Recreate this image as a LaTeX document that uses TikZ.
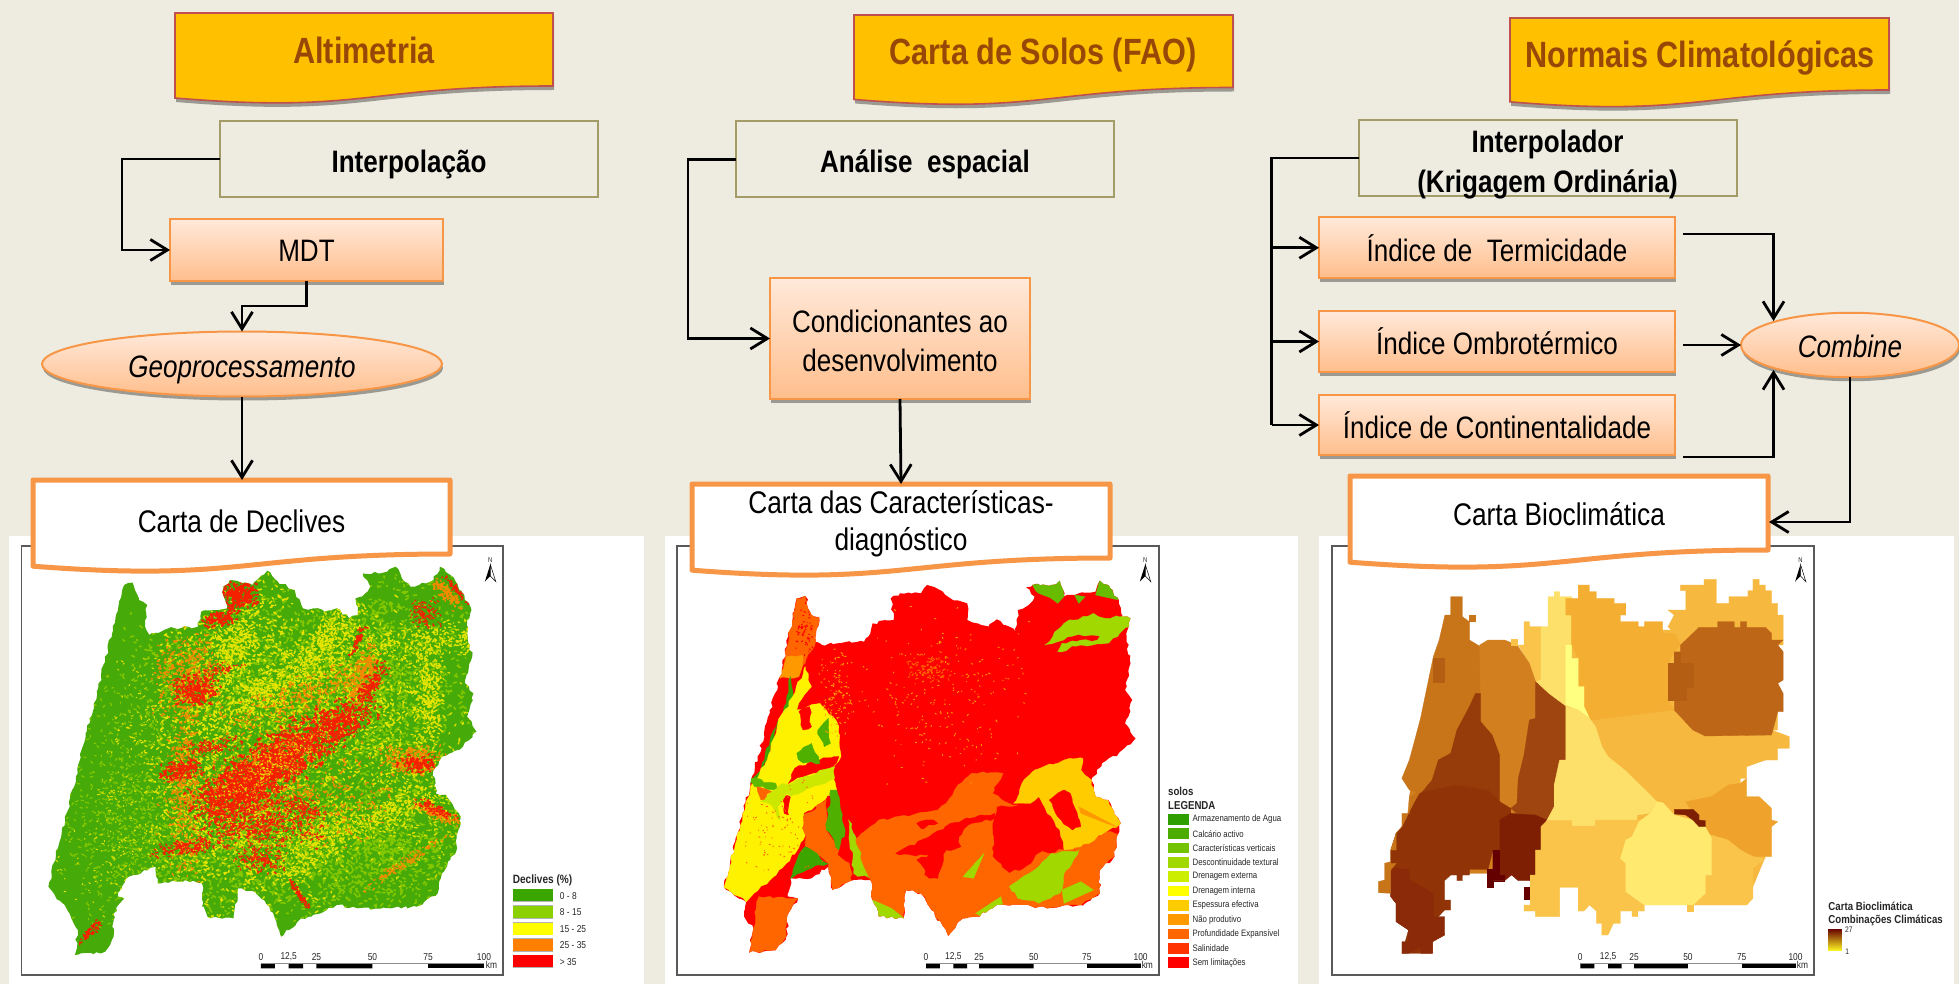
\documentclass[tikz,border=0pt]{standalone}
\usepackage{fontspec}
\setmainfont[FakeStretch=0.84]{Liberation Sans}
\usetikzlibrary{arrows.meta,shapes.geometric,shadings,shadows,decorations.pathmorphing}
\definecolor{bgc}{HTML}{EEECE1}
\definecolor{bannerf}{HTML}{FFC000}
\definecolor{bannerl}{HTML}{C0504D}
\definecolor{bannert}{HTML}{984806}
\definecolor{olive}{HTML}{A39B68}
\definecolor{orl}{HTML}{F79646}
\definecolor{gtop}{HTML}{FFE9DA}
\definecolor{gbot}{HTML}{FFBE8C}
\tikzset{
 flow/.style={line width=2.8pt,draw=black,line join=miter},
 arr/.style={flow,-{Straight Barb[length=17pt,width=21pt,line width=2.8pt]}},
 softsh/.style={drop shadow={shadow xshift=1pt,shadow yshift=-4pt,fill=black,opacity=.35}},
 procbox/.style={rectangle,draw=orl,line width=2pt,top color=gtop,bottom color=gbot,softsh,inner sep=0pt,outer sep=0pt,align=center,font=\fontsize{31}{39}\selectfont},
 procell/.style={ellipse,draw=orl,line width=2pt,top color=gtop,bottom color=gbot,softsh,inner sep=0pt,outer sep=0pt,align=center,font=\fontsize{31}{39}\selectfont\itshape},
 opbox/.style={rectangle,draw=olive,line width=2pt,inner sep=0pt,outer sep=0pt,align=center,minimum width=378pt,font=\fontsize{31}{40}\selectfont\bfseries},
 bannertxt/.style={inner sep=0pt,text=bannert,font=\fontsize{36.5}{40}\selectfont\bfseries},
 cartatxt/.style={inner sep=0pt,outer sep=0pt,align=center,font=\fontsize{31.3}{37}\selectfont},
 bannershape/.style={fill=bannerf,draw=bannerl,line width=1.6pt,softsh},
 cartashape/.style={fill=white,draw=orl,line width=5pt,line join=round},
 maptxt/.style={inner sep=0pt,anchor=west,text=black!85,font=\fontsize{9.3}{11}\selectfont},
 mapbold/.style={inner sep=0pt,anchor=west,text=black!85,font=\fontsize{11.5}{13}\selectfont\bfseries},
 tick/.style={inner sep=0pt,text=black!85,font=\fontsize{10}{11}\selectfont},
 panel/.style={fill=white,draw=none},
 mapframe/.style={draw=black!65,line width=1.5pt},
 rough/.style={decorate,decoration={random steps,segment length=5pt,amplitude=1.6pt}},
 roughclip/.style={decorate,decoration={random steps,segment length=4pt,amplitude=1.5pt}},
}
\newcommand\docpath[4]{(#1,#3) -- (#2,#3) -- (#2,#4)
  .. controls ({(#1+#2)/2},#4) and ({(#1+#2)/2},{#3+(#4-#3)*1.381}) .. (#1,{#3+(#4-#3)*1.1646}) -- cycle}
\newcommand\zone[2]{\path[fill=#1,draw=#1,line width=.3pt] plot coordinates {#2} -- cycle;}
\newcommand\rzone[2]{\path[rough,fill=#1,draw=#1,line width=.3pt] plot coordinates {#2} -- cycle;}
% colour, N, cx, cy, a, b, angle, len, width
\newcommand\speck[9]{%
 \begin{pgfscope}%
 \pgfsetlinewidth{#9pt}\pgfsetstrokecolor{#1}\pgfsetroundcap
 \pgfmathsetmacro\spc{cos(#7)}\pgfmathsetmacro\sps{sin(#7)}%
 \foreach \spi in {1,...,#2}{%
  \pgfmathsetmacro\spu{#5*(rnd+rnd-1)}%
  \pgfmathsetmacro\spv{#6*(rnd+rnd-1)}%
  \pgfmathsetmacro\spx{#3+\spu*\spc-\spv*\sps}%
  \pgfmathsetmacro\spy{#4+\spu*\sps+\spv*\spc}%
  \pgfmathsetmacro\spdx{\spx+#8*(rnd-.5)}%
  \pgfmathsetmacro\spdy{\spy+#8*(rnd-.5)}%
  \pgfpathmoveto{\pgfpointxy{\spx}{\spy}}%
  \pgfpathlineto{\pgfpointxy{\spdx}{\spdy}}%
 }%
 \pgfusepath{stroke}%
 \end{pgfscope}%
}
\newcommand\northarrow[2]{%
 \node[tick,font=\fontsize{7}{8}\selectfont] (n#2) at (#1,90) {N};
 \fill[black] (#1,103) -- (#1-13,155) -- (#1,138) -- cycle;
 \draw[black,line width=.5pt,fill=white] (#1,103) -- (#1+13,155) -- (#1,138) -- cycle;
}
\newcommand\scalebar[9]{%
 \fill[white] (#1,1300) rectangle (#7,1315);
 \draw[black!45,line width=1pt] (#1,1300) -- (#7,1300);
 \fill[black] (#1,1302) rectangle (#2,1315) (#3,1302) rectangle (#4,1315) (#5,1302) rectangle (#6,1315);
 \fill[black] (#8,1302) rectangle (#7,1315);
 \node[tick] (sb\sbname a) at (#1,1280) {0};
 \node[tick] (sb\sbname b) at (#3,1280) {12,5};
 \node[tick] (sb\sbname c) at (#5,1280) {25};
 \node[tick] (sb\sbname d) at (#6,1280) {50};
 \node[tick] (sb\sbname e) at (#8,1280) {75};
 \node[tick] (sb\sbname f) at (#7,1280) {100};
 \node[tick] (sb\sbname g) at (#9,1306) {km};
}
\newcommand\dn[1]{\rule{0pt}{#1pt}}
\begin{document}
\begin{tikzpicture}[x=1pt,y=-1pt]
\useasboundingbox (0,0) rectangle (1959,984);
\fill[bgc] (0,0) rectangle (1959,984);
% panels
\fill[panel] (9,536) rectangle (644,984);
\fill[panel] (665,536) rectangle (1298,984);
\fill[panel] (1319,536) rectangle (1954,984);
\draw[mapframe,fill=white] (21.5,546) rectangle (503,975);
\draw[mapframe,fill=white] (677,546) rectangle (1159,975);
\draw[mapframe,fill=white] (1332,546) rectangle (1814,975);

%%%%%%%%%% MAP 1
\begin{scope}[shift={(0,530)},x=0.42087pt,y=-0.33333pt]
\pgfmathsetseed{4242}
\begin{scope}
\clip[roughclip] plot coordinates {(295,165) (315,158) (330,210) (350,225) (345,290) (355,315) (400,295) (470,290) (478,245) (510,240) (540,235) (530,180) (545,152) (600,165) (635,122) (660,155) (700,180) (720,235) (745,235) (770,245) (800,235) (830,265) (850,255) (845,205) (860,200) (880,170) (862,130) (920,125) (940,110) (955,145) (975,170) (1030,150) (1045,110) (1070,135) (1100,190) (1120,240) (1110,270) (1110,310) (1122,380) (1105,460) (1125,490) (1110,560) (1132,605) (1100,650) (1050,680) (1030,720) (1035,790) (1060,795) (1090,850) (1095,880) (1085,925) (1085,960) (1050,1030) (1040,1090) (990,1130) (930,1135) (850,1135) (800,1125) (740,1160) (715,1165) (668,1220) (640,1130) (605,1085) (565,1075) (555,1165) (500,1165) (480,1130) (480,1060) (440,1050) (375,1060) (370,1010) (300,1045) (280,1100) (295,1105) (270,1150) (270,1220) (250,1265) (178,1275) (185,1200) (165,1150) (115,1070) (180,740)} -- cycle;
\fill[fill={rgb,255:red,70;green,170;blue,8}] (100,100) rectangle (1140,1280);
\definecolor{limeA}{HTML}{86C800}
\definecolor{yelA}{HTML}{E4E400}
\definecolor{oraA}{HTML}{F58A00}
\definecolor{redA}{HTML}{F52000}
% west: sparse lime grain
\speck{limeA}{500}{300}{800}{170}{420}{0}{14}{1.2}
\speck{limeA}{250}{300}{950}{190}{260}{0}{14}{1.2}
\speck{yelA}{200}{300}{950}{190}{260}{0}{10}{1.0}
\speck{yelA}{150}{340}{620}{90}{260}{0}{10}{1.0}
% central and east: lime mix
\foreach \rr in {1,2}{
\speck{limeA}{700}{600}{450}{330}{320}{0}{16}{1.6}
\speck{limeA}{700}{900}{450}{230}{360}{0}{16}{1.6}
\speck{limeA}{700}{600}{950}{300}{250}{0}{16}{1.6}
\speck{limeA}{500}{900}{950}{220}{220}{0}{16}{1.6}
}
\speck{yelA}{700}{620}{420}{260}{330}{0}{14}{1.5}
\speck{yelA}{700}{820}{520}{240}{330}{0}{14}{1.5}
\speck{yelA}{700}{600}{900}{260}{280}{0}{14}{1.5}
\speck{yelA}{500}{470}{650}{130}{480}{0}{14}{1.5}
\speck{yelA}{400}{1000}{750}{150}{350}{0}{12}{1.3}
\speck{yelA}{350}{1040}{330}{60}{220}{85}{12}{1.3}
% ridges
\speck{yelA}{300}{640}{480}{190}{55}{-33}{12}{1.4}
\speck{yelA}{250}{560}{350}{130}{50}{-70}{12}{1.4}
\speck{yelA}{250}{780}{330}{150}{50}{-60}{12}{1.4}
\speck{yelA}{250}{930}{850}{160}{50}{-30}{12}{1.3}
\speck{yelA}{250}{1020}{500}{40}{180}{0}{12}{1.4}
\speck{yelA}{300}{760}{930}{170}{60}{-50}{12}{1.3}
% oranges
\speck{oraA}{700}{640}{800}{300}{180}{0}{12}{1.4}
\speck{oraA}{350}{450}{430}{90}{150}{0}{12}{1.4}
\speck{oraA}{350}{440}{750}{40}{350}{0}{12}{1.4}
\speck{oraA}{300}{720}{500}{260}{70}{-30}{12}{1.4}
\speck{oraA}{250}{980}{690}{80}{50}{0}{12}{1.4}
\speck{oraA}{150}{1040}{850}{70}{20}{28}{12}{1.4}
\speck{oraA}{200}{860}{430}{110}{30}{-70}{12}{1.4}
\speck{oraA}{120}{1060}{190}{60}{20}{55}{10}{1.3}
\speck{oraA}{120}{960}{1000}{150}{15}{-40}{10}{1.2}
% reds
\speck{redA}{700}{650}{700}{230}{85}{-40}{14}{2.0}
\speck{redA}{500}{640}{710}{160}{70}{-40}{14}{2.0}
\speck{redA}{450}{790}{590}{140}{60}{-40}{13}{1.6}
\speck{redA}{500}{560}{790}{130}{70}{-25}{13}{1.7}
\speck{redA}{500}{620}{880}{170}{90}{0}{12}{1.3}
\speck{redA}{240}{565}{195}{50}{50}{0}{12}{1.8}
\speck{redA}{90}{525}{265}{50}{25}{-20}{12}{1.8}
\speck{redA}{220}{465}{480}{60}{55}{0}{12}{1.6}
\speck{redA}{150}{430}{720}{35}{60}{75}{12}{1.6}
\speck{redA}{150}{450}{950}{25}{110}{80}{12}{1.3}
\speck{redA}{130}{880}{470}{90}{25}{-70}{12}{1.6}
\speck{redA}{120}{620}{990}{70}{40}{0}{12}{1.3}
\speck{redA}{110}{990}{700}{60}{30}{0}{12}{1.5}
\speck{redA}{90}{1040}{840}{70}{15}{28}{10}{1.3}
\speck{redA}{70}{710}{1090}{60}{8}{62}{10}{1.3}
\speck{redA}{70}{215}{1205}{50}{12}{-55}{10}{1.3}
\speck{redA}{60}{1085}{180}{60}{6}{55}{10}{1.3}
\speck{redA}{110}{1010}{250}{40}{50}{0}{10}{1.2}
\speck{redA}{70}{850}{330}{60}{8}{-70}{10}{1.2}
\speck{redA}{90}{720}{830}{50}{30}{20}{10}{1.3}
\speck{redA}{110}{500}{650}{25}{90}{80}{10}{1.2}
\speck{redA}{60}{520}{420}{20}{70}{70}{10}{1.2}
% flecks over the red core
\speck{oraA}{350}{650}{700}{230}{85}{-40}{9}{1.1}
\speck{yelA}{200}{650}{700}{230}{85}{-40}{8}{1.0}
\end{scope}
% legend
\node[mapbold,font=\fontsize{12}{14}\selectfont\bfseries] (legA) at (1218,1050) {Declives (\%)};
\foreach \yy/\cc/\lbl/\nn in {1078/3CA600/0 - 8/a,1128/8CD000/8 - 15/b,1178/FFFF00/15 - 25/c,1227/FF8000/25 - 35/d,1276/FF0000/> 35/e}{
 \definecolor{lc}{HTML}{\cc}
 \fill[black!30] (1218,\yy-2) rectangle (1315,\yy+38);
 \fill[lc] (1218,\yy) rectangle (1315,\yy+36);
 \node[maptxt,font=\fontsize{10}{11}\selectfont] (legA\nn) at (1330,\yy+19) {\lbl};
}
\def\sbname{A}
\scalebar{620}{653}{686}{720}{752}{885}{1150}{1017}{1168}
\northarrow{1165}{A}
\end{scope}

%%%%%%%%%% MAP 2
\begin{scope}[shift={(660,530)},x=0.42087pt,y=-0.33333pt]
\definecolor{o6}{HTML}{FF6600}
\definecolor{o9}{HTML}{FF9900}
\definecolor{gd}{HTML}{3DA500}
\definecolor{gm}{HTML}{4FB000}
\definecolor{gl}{HTML}{A0D800}
\definecolor{gy}{HTML}{CCE800}
\definecolor{yo}{HTML}{FFCC00}
\begin{scope}
\clip[roughclip] plot coordinates {(325,205) (345,198) (360,255) (378,262) (370,335) (385,345) (420,340) (485,335) (495,320) (505,280) (555,270) (548,205) (570,190) (620,190) (635,165) (665,180) (690,205) (730,220) (730,270) (780,290) (800,268) (830,290) (845,305) (850,240) (870,230) (890,200) (870,172) (885,165) (930,165) (950,152) (960,200) (985,195) (1035,185) (1045,152) (1065,165) (1090,210) (1100,260) (1118,265) (1108,310) (1118,400) (1105,480) (1122,510) (1105,580) (1130,625) (1090,670) (1050,700) (1025,750) (1035,800) (1065,810) (1095,880) (1085,920) (1080,980) (1045,1020) (1045,1090) (1000,1125) (920,1135) (860,1125) (800,1125) (755,1160) (720,1165) (685,1218) (640,1130) (620,1090) (585,1080) (578,1165) (520,1160) (505,1110) (500,1050) (460,1050) (440,1060) (410,1080) (400,1010) (360,1045) (310,1045) (305,1100) (328,1105) (305,1150) (300,1220) (275,1260) (212,1268) (222,1195) (200,1160) (205,1115) (152,1072) (215,760) (285,440)} -- cycle;
\fill[red] (100,100) rectangle (1140,1280);
\rzone{o6}{(325,205) (345,198) (360,255) (378,262) (370,335) (345,400) (310,440) (285,440)}
\rzone{o9}{(300,380) (340,375) (330,440) (285,445)}
\rzone{gd}{(310,440) (300,520) (270,600) (240,720) (215,760) (240,745) (280,580) (315,505)}
\rzone{yellow}{(345,410) (360,470) (335,510) (325,540) (380,520) (395,540) (425,590) (430,680) (410,710) (420,780) (380,820) (340,850) (360,870) (340,930) (300,1000) (270,1040) (205,1115) (152,1072) (215,770) (250,700) (280,580) (315,500)}
\rzone{red}{(330,545) (355,530) (360,590) (340,600)}
\rzone{red}{(305,760) (320,715) (380,690) (425,680) (410,710) (340,740)}
\rzone{red}{(290,800) (310,800) (305,855) (295,850)}
\rzone{gm}{(325,670) (360,640) (380,700) (335,695)}
\rzone{gm}{(375,600) (400,565) (405,640) (390,650)}
\rzone{gm!80!gl}{(215,745) (275,760) (280,780) (225,770)}
\rzone{gy}{(280,770) (415,710) (415,745) (310,800)}
\rzone{gy}{(240,815) (285,770) (300,790) (280,830) (285,870) (265,825)}
\rzone{o6}{(230,770) (265,785) (240,810)}
\rzone{o6}{(340,860) (395,810) (395,900) (425,960) (410,1000) (400,1000) (345,950)}
\rzone{gm}{(405,780) (420,780) (440,900) (425,960) (395,900)}
\rzone{gd}{(345,950) (400,1000) (360,1015) (310,1045) (325,990)}
\rzone{o6}{(235,1100) (328,1105) (305,1150) (300,1220) (275,1260) (212,1268) (222,1195)}
\rzone{o6}{(410,960) (450,1000) (455,1055) (410,1080) (400,1010)}
\rzone{gl}{(448,870) (465,920) (505,1050) (460,1030)}
\rzone{o6}{(465,930) (500,890) (520,870) (600,855) (660,840) (680,820) (700,780) (740,730) (815,730) (790,790) (820,815) (850,825) (800,830) (790,880) (790,980) (830,1030) (870,1010) (900,970) (960,960) (1000,950) (1060,905) (1095,910) (1080,980) (1045,1020) (1045,1090) (1000,1125) (920,1135) (860,1130) (800,1130) (755,1165) (720,1170) (685,1225) (640,1130) (620,1090) (585,1080) (578,1170) (520,1165) (505,1110) (500,1050)}
\rzone{red}{(560,970) (640,920) (690,880) (760,855) (795,850) (795,865) (740,880) (710,920) (715,950) (680,960) (660,1045) (640,1045) (610,990) (640,975) (570,975)}
\rzone{red}{(610,880) (650,870) (660,880) (620,895)}
\rzone{yo}{(840,820) (860,760) (890,720) (960,690) (1005,685) (1000,720) (1025,750) (1035,800) (1065,810) (1095,880) (1060,905) (1000,950) (960,960) (950,900) (920,850) (900,800) (880,820)}
\rzone{red}{(925,810) (960,780) (975,790) (1000,890) (980,900) (945,860)}
\zone{o9}{(995,830) (1085,890) (1060,880) (1000,850)}
\rzone{gl}{(830,1070) (900,1010) (930,970) (995,960) (960,1030) (950,1090) (900,1120) (850,1105)}
\zone{gl}{(720,1040) (770,970) (745,1045)}
\zone{gl}{(955,1080) (1000,1055) (1030,1080) (960,1120)}
\zone{gl}{(750,1150) (810,1100) (815,1130) (765,1160)}
\zone{gl}{(505,1110) (550,1135) (580,1165) (520,1165)}
\rzone{gm!70!gl}{(885,165) (950,150) (960,200) (945,220) (900,190)}
\zone{gm!70!gl}{(985,195) (1010,200) (995,220)}
\zone{gm!70!gl}{(1045,150) (1065,165) (1090,210) (1035,195)}
\rzone{gl}{(915,345) (960,280) (1030,250) (1060,265) (1120,255) (1115,290) (1060,340) (1000,345) (945,365) (955,340) (1040,330) (1045,318) (990,315) (945,335)}
\pgfmathsetseed{777}
\speck{o9}{220}{680}{500}{250}{300}{0}{8}{.9}
\speck{o6}{100}{640}{420}{60}{60}{0}{10}{1}
\speck{o9}{120}{420}{480}{50}{150}{0}{8}{.9}
\speck{o6}{100}{290}{900}{110}{160}{0}{6}{.9}
\speck{red}{60}{340}{300}{30}{90}{0}{8}{1}
\end{scope}
\node[mapbold] (legB) at (1207,783) {solos};
\node[mapbold] (legB0) at (1207,826) {LEGENDA};
\foreach \yy/\cc/\lbl/\nn in {868/2F9E00/Armazenamento de Agua/a,911/4CAC00/Calcário activo/b,954/73C300/Características verticais/c,997/A0D800/Descontinuidade textural/d,1040/CCEE00/Drenagem externa/e,1083/FFFF00/Drenagem interna/f,1126/FFCC00/Espessura efectiva/g,1169/FF9900/Não produtivo/h,1212/FF6600/Profundidade Expansível/i,1255/FF3300/Salinidade/j,1298/FF0000/Sem limitações/k}{
 \definecolor{lc}{HTML}{\cc}
 \fill[lc] (1207,\yy-16) rectangle (1257,\yy+16);
 \node[maptxt] (legB\nn) at (1265,\yy) {\lbl};
}
\def\sbname{B}
\scalebar{632}{665}{697}{730}{758}{888}{1142}{1014}{1158}
\northarrow{1153}{B}
\end{scope}

%%%%%%%%%% MAP 3
\begin{scope}[shift={(1310,530)},x=0.41391pt,y=-0.33333pt]
\definecolor{zA}{HTML}{C87519}\definecolor{zB}{HTML}{D2801F}\definecolor{zC}{HTML}{963C0A}
\definecolor{zD}{HTML}{9F4510}\definecolor{zE}{HTML}{903307}\definecolor{zF}{HTML}{8B2A08}
\definecolor{zG}{HTML}{7E1E02}\definecolor{zH}{HTML}{640000}\definecolor{zJ}{HTML}{F9C449}
\definecolor{zK}{HTML}{FDE06A}\definecolor{zL}{HTML}{FFFF80}\definecolor{zM}{HTML}{F4AE32}
\definecolor{zN}{HTML}{F6B83E}\definecolor{zO}{HTML}{BD6618}\definecolor{zP}{HTML}{B45E14}
\definecolor{zS}{HTML}{FFE96E}\definecolor{zU}{HTML}{EFA22C}
% underlays that close the seams between zones
\zone{zN}{(560,300) (1100,300) (1100,690) (1040,710) (1040,800) (1100,850) (1100,980) (1060,1100) (780,1090) (610,1060) (560,1050)}
\zone{zB}{(330,300) (560,500) (545,1030) (330,1030) (225,1000) (240,800) (270,600)}
\zone{zJ}{(517,275) (530,275) (530,290) (558,290) (558,470) (545,455) (530,400) (503,345) (517,345)}
\zone{zK}{(575,200) (590,200) (590,185) (603,185) (603,200) (632,200) (632,345) (618,345) (618,530) (575,490) (545,455) (558,450) (558,290) (575,290)}
\zone{zN}{(895,165) (952,165) (952,148) (982,148) (982,220) (1012,220) (1012,200) (1058,200) (1058,182) (1070,182) (1070,148) (1085,148) (1085,165) (1100,165) (1100,182) (1115,182) (1115,220) (1130,220) (1130,255) (1143,255) (1143,345) (1130,345) (1130,600) (1115,600) (1158,620) (1158,655) (1130,655) (1130,690) (1100,690) (1055,710) (1055,745) (1040,745) (1010,765) (970,800) (838,815) (810,765) (760,720) (720,680) (690,590) (675,565) (810,550) (880,540) (865,510) (865,400) (895,345) (880,310) (865,290) (880,255) (865,240) (908,240) (908,182) (895,182)}
\zone{zM}{(618,205) (648,205) (648,165) (675,165) (675,185) (692,185) (692,205) (735,205) (735,220) (763,220) (763,255) (750,255) (750,275) (793,275) (793,290) (808,290) (808,275) (852,275) (852,310) (880,310) (895,345) (880,365) (865,400) (865,510) (880,540) (810,550) (680,570) (662,530) (662,470) (648,470) (648,385) (632,345) (632,255) (618,255)}
\zone{zA}{(340,200) (368,200) (368,260) (385,275) (385,330) (412,350) (412,490) (385,530) (370,565) (355,600) (340,670) (310,690) (295,750) (265,790) (240,780) (222,745) (240,690) (252,635) (267,565) (282,475) (298,380) (312,330) (326,255) (340,255)}
\zone{zP}{(298,385) (325,385) (325,455) (298,455)}
\zone{zA}{(385,255) (398,255) (398,272) (385,272)}
\zone{zB}{(410,345) (430,330) (470,330) (500,345) (530,400) (545,455) (545,565) (530,570) (517,675) (503,745) (500,820) (485,835) (460,815) (458,675) (440,615) (412,575) (412,490)}
\zone{zJ}{(487,328) (500,328) (500,345) (487,345)}
\zone{zC}{(400,490) (412,490) (412,575) (440,615) (458,675) (458,815) (430,780) (350,765) (265,795) (295,750) (310,690) (340,670) (355,600) (370,565) (385,530)}
\zone{zD}{(545,455) (575,490) (618,530) (618,690) (603,690) (590,765) (590,830) (572,870) (545,855) (500,850) (485,835) (500,820) (503,745) (517,675) (530,570) (545,565)}
\zone{zE}{(265,790) (350,765) (430,780) (458,815) (485,835) (485,850) (458,870) (458,960) (442,960) (430,1018) (385,1018) (385,1035) (368,1035) (368,1052) (355,1052) (355,1035) (340,1035) (325,1052) (325,1110) (340,1110) (340,1140) (325,1140) (310,1160) (325,1215) (296,1235) (296,1270) (222,1270) (238,1200) (208,1175) (208,1120) (195,1100) (195,1015) (195,960) (208,910) (222,890) (238,850) (250,820)}
\zone{zF}{(195,1015) (238,1018) (240,1050) (298,1090) (298,1160) (325,1160) (325,1215) (296,1235) (296,1270) (268,1270) (268,1250) (238,1270) (222,1270) (222,1235) (238,1235) (238,1200) (208,1175) (208,1120) (195,1100)}
\zone{zA}{(222,890) (222,850) (240,850) (240,800) (265,785) (250,820) (238,850) (222,890) (208,910) (208,960) (195,960) (195,1000) (208,1000) (195,1020) (195,1090) (165,1088) (165,1055) (180,1050) (180,1000) (195,995) (195,960) (208,910)}
\zone{zG}{(458,870) (485,850) (545,855) (572,870) (558,960) (545,960) (545,1035) (530,1052) (503,1052) (487,1035) (470,1052) (442,1052) (442,960) (458,960)}
\zone{zH}{(442,960) (458,960) (458,1035) (470,1035) (470,1052) (442,1052) (442,1072) (428,1072) (428,1018) (442,1018)}
\zone{zH}{(517,1070) (532,1070) (532,1107) (517,1107)}
\zone{zL}{(618,345) (632,345) (632,385) (648,385) (648,470) (662,470) (662,530) (675,565) (648,540) (618,525)}
\zone{zK}{(618,528) (648,540) (675,565) (690,590) (705,650) (720,680) (760,720) (810,780) (838,815) (820,850) (790,855) (790,870) (690,870) (690,888) (632,888) (632,872) (572,872) (590,830) (590,765) (603,690) (618,690)}
\zone{zJ}{(572,872) (632,872) (632,888) (690,888) (690,870) (790,870) (808,870) (778,920) (763,930) (763,985) (750,985) (763,1000) (763,1085) (780,1100) (808,1125) (808,1143) (792,1143) (792,1160) (778,1160) (778,1143) (750,1143) (750,1180) (733,1180) (720,1215) (705,1215) (705,1180) (692,1180) (692,1143) (675,1125) (662,1143) (648,1143) (648,1072) (603,1072) (603,1160) (545,1160) (545,1143) (517,1143) (517,1125) (532,1125) (532,1035) (545,1035) (545,960) (558,960) (558,890)}
\zone{zU}{(908,815) (970,800) (1010,765) (1040,760) (1055,745) (1055,800) (1085,800) (1115,835) (1115,870) (1130,875) (1115,890) (1115,980) (1070,980) (1040,960) (1010,930) (955,910) (950,880) (925,850)}
\zone{zJ}{(955,910) (1010,930) (1040,960) (1070,980) (1100,985) (1085,1000) (1070,1015) (1070,1105) (1055,1125) (925,1125) (955,1090) (955,1035) (970,1035) (970,925)}
\zone{zS}{(822,850) (838,815) (852,818) (880,855) (925,870) (955,890) (970,925) (970,1035) (955,1035) (955,1090) (925,1125) (808,1125) (780,1100) (763,1085) (763,1000) (750,985) (763,930) (778,920) (795,875)}
\zone{zJ}{(910,1125) (925,1125) (925,1143) (910,1143)}
\zone{zG}{(880,838) (925,838) (940,855) (940,870) (955,872) (955,890) (940,890) (925,870) (908,855) (880,852)}
\zone{zO}{(940,292) (985,292) (985,275) (1025,275) (1025,292) (1040,292) (1040,275) (1055,275) (1055,292) (1100,292) (1115,310) (1115,330) (1143,330) (1130,345) (1143,365) (1143,450) (1130,460) (1143,490) (1143,545) (1130,545) (1115,615) (955,618) (925,600) (880,540) (880,510) (908,510) (895,400) (895,345) (925,310)}
\zone{zP}{(880,365) (895,365) (895,400) (925,400) (925,470) (908,470) (908,510) (865,510) (865,400) (880,400)}
\node[mapbold] (legC) at (1252,1128) {Carta Bioclimática};
\node[mapbold] (legC0) at (1252,1172) {Combinações Climáticas};
\shade[top color=zH!90!zD,middle color=zM,bottom color=yellow!70!zS] (1252,1198) rectangle (1285,1262);
\node[tick,font=\fontsize{8}{9}\selectfont] (legC1) at (1302,1198) {27};
\node[tick,font=\fontsize{8}{9}\selectfont] (legC2) at (1298,1265) {1};
\def\sbname{C}
\scalebar{653}{687}{720}{753}{783}{913}{1173}{1043}{1190}
\northarrow{1185}{C}
\end{scope}

%%%%%%%%%% FLOW
% banners
\path[bannershape] \docpath{175}{553}{13}{86};
\path[bannershape] \docpath{854}{1233}{15}{87.5};
\path[bannershape] \docpath{1510}{1889}{18}{90};
\node[bannertxt] (banA) at (364,50) {Altimetria};
\node[bannertxt] (banB) at (1043,55) {Carta de Solos (FAO)};
\node[bannertxt] (banC) at (1700,58) {Normais Climatológicas};
% operation boxes
\node[opbox,minimum height=76pt] (interp) at (409,159) {\dn{33}Interpolação};
\node[opbox,minimum height=76pt] (analise) at (925,159.5) {\dn{33}Análise\ \ espacial};
\node[opbox,minimum height=76pt,text depth=0pt] (krig) at (1547.5,158) {\dn{29}Interpolador\\(Krigagem Ordinária)};
% process boxes
\node[procbox,minimum width=273pt,minimum height=62pt] (mdt) at (306.5,250) {\dn{24}MDT};
\node[procell,minimum width=400pt,minimum height=65pt] (geo) at (242,364) {\dn{33}Geoprocessamento};
\node[procbox,minimum width=260pt,minimum height=121pt] (cond) at (900,338.5) {\dn{27}Condicionantes ao\\desenvolvimento};
\node[procbox,minimum width=356pt,minimum height=60.5pt] (term) at (1497,247.75) {Índice de\ \ Termicidade};
\node[procbox,minimum width=356pt,minimum height=61pt] (ombro) at (1497,341.5) {Índice Ombrotérmico};
\node[procbox,minimum width=356pt,minimum height=60pt] (cont) at (1497,425) {Índice de Continentalidade};
\node[procell,minimum width=218pt,minimum height=64.5pt] (comb) at (1850,345) {\dn{25}Combine};
% cartas
\path[cartashape] \docpath{33}{450}{480}{554};
\path[cartashape] \docpath{692}{1110}{484}{558};
\path[cartashape] \docpath{1350}{1768}{476}{550};
\node[cartatxt,minimum width=417pt,minimum height=74pt] (cartaA) at (241.5,517) {\dn{31}Carta de Declives};
\node[cartatxt,minimum width=418pt,minimum height=74pt] (cartaB) at (901,521) {\dn{28}Carta das Características-\\diagnóstico};
\node[cartatxt,minimum width=418pt,minimum height=74pt] (cartaC) at (1559,513) {\dn{25}Carta Bioclimática};
% connector helpers
\coordinate (e1) at (122,200);
\coordinate (e2) at (270,306);
\coordinate (e3) at (688,250);
\coordinate (trunk) at (1271.5,425);
\coordinate (tOut) at (1683,234);
\coordinate (oOut) at (1683,345);
\coordinate (cOut) at (1683,457);
\coordinate (tIn) at (1773.5,321);
\coordinate (cIn) at (1773.5,370);
\coordinate (cartaIn) at (1769,522);
% connectors
\draw[arr] (interp.west) -| (e1) |- (mdt.west);
\draw[arr] (mdt.south) |- (e2) -| (geo.north);
\draw[arr] (geo.south) -- (geo.south |- cartaA.north);
\draw[arr] (analise.west) -| (e3) |- (cond.west);
\draw[arr] (cond.south) -- (cartaB.north);
\draw[flow] (krig.west) -| (trunk);
\draw[arr] (trunk |- term.west) -- (term.west);
\draw[arr] (trunk |- ombro.west) -- (ombro.west);
\draw[arr] (trunk) -- (cont.west);
\draw[arr] (tOut) -| (tIn);
\draw[arr] (oOut) -- (comb.west);
\draw[arr] (cOut) -| (cIn);
\draw[arr] (comb.south) |- (cartaIn);
\end{tikzpicture}
\end{document}
